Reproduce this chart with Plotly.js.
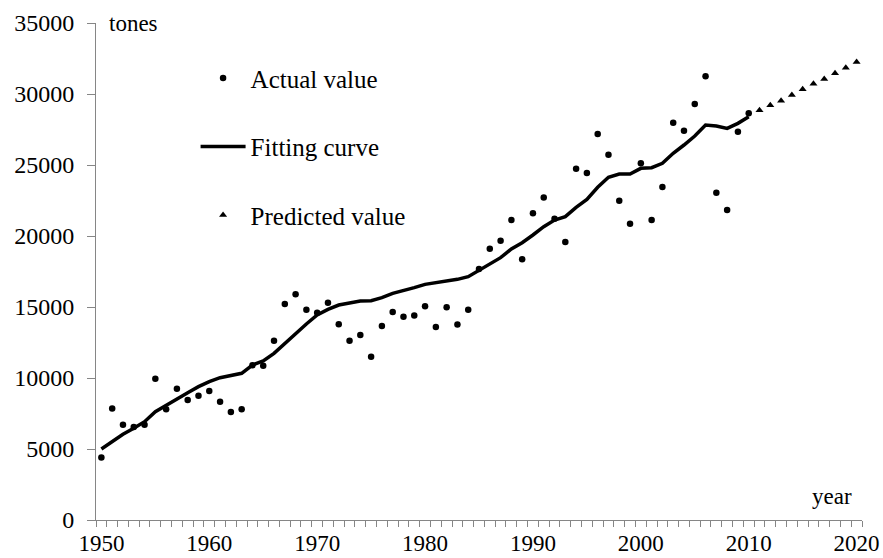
<!DOCTYPE html>
<html>
<head>
<meta charset="utf-8">
<script src="https://cdn.plot.ly/plotly-3.0.1.min.js"></script>
<style>html,body{margin:0;padding:0;background:#fff;}#chart{width:883px;height:558px;}</style>
</head>
<body>
<div id="chart"></div>
<script>
const actualYears = [1950,1951,1952,1953,1954,1955,1956,1957,1958,1959,
  1960,1961,1962,1963,1964,1965,1966,1967,1968,1969,
  1970,1971,1972,1973,1974,1975,1976,1977,1978,1979,
  1980,1981,1982,1983,1984,1985,1986,1987,1988,1989,
  1990,1991,1992,1993,1994,1995,1996,1997,1998,1999,
  2000,2001,2002,2003,2004,2005,2006,2007,2008,2009,2010];
const actualValues = [4400,7850,6700,6550,6700,9950,7800,9250,8450,8750,
  9080,8330,7600,7800,10900,10870,12630,15210,15890,14810,
  14600,15300,13780,12630,13030,11500,13660,14650,14320,14410,
  15050,13590,14980,13760,14810,17680,19100,19670,21130,18360,
  21600,22720,21220,19580,24740,24440,27180,25730,22490,20870,
  25120,21130,23450,27980,27420,29300,31250,23050,21830,27350,28640];
const fitValues = [5000,5516,6033,6455,6925,7629,8098,8568,8967,9390,
  9741,10023,10164,10328,10915,11197,11737,12440,13145,13802,
  14436,14835,15140,15305,15422,15446,15657,15962,16150,16361,
  16596,16714,16854,16948,17135,17605,18004,18473,19084,19530,
  20070,20656,21126,21361,22018,22582,23427,24131,24366,24366,
  24765,24812,25117,25821,26408,27041,27816,27746,27581,27934,28403];
const predictedYears = [2011,2012,2013,2014,2015,2016,2017,2018,2019,2020];
const predictedValues = [28850,29200,29530,29930,30330,30730,31060,31460,31850,32250];
const xTickLabels = ['1950','1960','1970','1980','1990','2000','2010','2020'];
const seriesNames = ['Actual value','Fitting curve','Predicted value'];

const FONT = '"Liberation Serif", "Times New Roman", serif';
const AXIS = '#868686';

const traces = [
  {x: actualYears, y: actualValues, mode: 'markers', type: 'scatter', name: seriesNames[0],
   legendgroup: 'a', marker: {symbol: 'circle', size: 6.5, color: '#000'}},
  {x: actualYears, y: fitValues, mode: 'lines', type: 'scatter', name: seriesNames[1],
   legendgroup: 'b', line: {color: '#000', width: 3.5}},
  {x: predictedYears, y: predictedValues, mode: 'markers', type: 'scatter', name: seriesNames[2],
   legendgroup: 'c', marker: {symbol: 'triangle-up', size: 7, color: '#000'}}
];

const layout = {
  width: 883, height: 558,
  margin: {l: 96, r: 21, t: 23, b: 38},
  paper_bgcolor: '#fff', plot_bgcolor: '#fff',
  font: {family: FONT, size: 23, color: '#000'},
  showlegend: true,
  legend: {
    x: 0.13, y: 0.935, xanchor: 'left', yanchor: 'top',
    bgcolor: 'rgba(0,0,0,0)', borderwidth: 0,
    itemwidth: 45,
    font: {family: FONT, size: 25, color: '#000'},
    traceorder: 'grouped', tracegroupgap: 33
  },
  xaxis: {
    range: [1949.5, 2020.5],
    tickmode: 'array',
    tickvals: xTickLabels.map(Number),
    ticktext: xTickLabels,
    ticks: '', showgrid: false, zeroline: false,
    showline: true, linecolor: AXIS, linewidth: 1,
    ticklabelstandoff: 2,
    tickfont: {family: FONT, size: 23, color: '#000'},
    minor: {ticks: 'outside', tickmode: 'linear', tick0: 1949.5, dtick: 1, ticklen: 6, tickcolor: AXIS, tickwidth: 1, showgrid: false}
  },
  yaxis: {
    range: [0, 35000], dtick: 5000, tick0: 0,
    tickformat: 'd',
    ticks: 'outside', ticklen: 8, tickcolor: AXIS, tickwidth: 1,
    showgrid: false, zeroline: false,
    showline: true, linecolor: AXIS, linewidth: 1,
    ticklabelstandoff: 8,
    tickfont: {family: FONT, size: 24, color: '#000'}
  },
  annotations: [
    {text: 'tones', xref: 'paper', yref: 'paper', x: 0.015, y: 1.0, xanchor: 'left', yanchor: 'middle',
     showarrow: false, font: {family: FONT, size: 23, color: '#000'}},
    {text: 'year', xref: 'paper', yref: 'paper', x: 0.99, y: 0.048, xanchor: 'right', yanchor: 'middle',
     showarrow: false, font: {family: FONT, size: 23, color: '#000'}}
  ]
};

Plotly.newPlot('chart', traces, layout, {displayModeBar: false, staticPlot: true});
</script>
</body>
</html>
